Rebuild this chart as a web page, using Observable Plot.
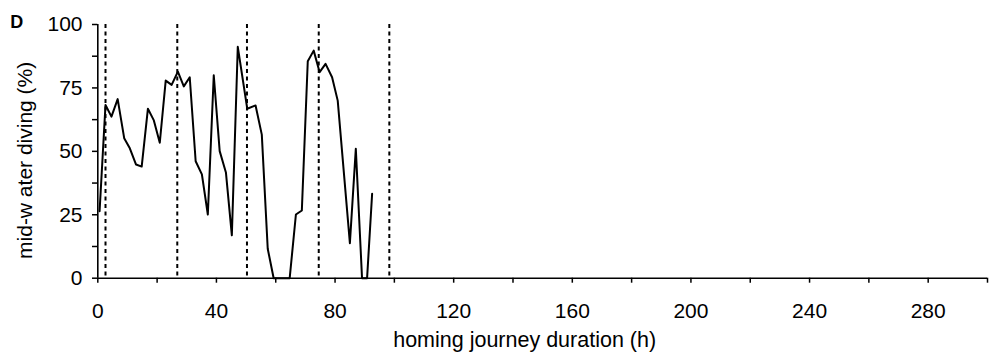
<!DOCTYPE html>
<html>
<head>
<meta charset="utf-8">
<script src="https://cdn.jsdelivr.net/npm/d3@7"></script>
<script src="https://cdn.jsdelivr.net/npm/@observablehq/plot@0.6"></script>
<style>
  html, body { margin: 0; padding: 0; background: #fff; }
  #chart svg { display: block; font-family: "Liberation Sans", Arial, sans-serif; }
</style>
</head>
<body>
<div id="chart"></div>
<script>
// ---- data ----
const panelLabel = "D";
const xLabel = "homing journey duration (h)";
const yLabel = "mid-w ater diving (%)";

const hours = [0.6, 2.6, 4.6, 6.7, 8.9, 10.8, 12.9, 14.8, 16.9, 18.9, 20.9, 22.9, 24.9, 27.0, 29.0, 31.0,
  33.0, 35.1, 37.1, 39.1, 41.1, 43.2, 45.2, 47.2, 50.4, 53.2, 55.3, 57.3, 59.3, 64.7, 66.8, 68.8,
  70.8, 72.8, 74.8, 76.8, 79.0, 80.9, 85.0, 87.0, 89.1, 90.8, 92.5];
const diving = [26.4, 68.3, 63.7, 70.6, 55.2, 51.2, 44.8, 44.0, 66.8, 62.2, 53.4, 77.9, 76.2, 81.4, 75.6, 79.2,
  46.1, 40.9, 25.1, 80.0, 50.1, 41.7, 16.9, 91.2, 66.8, 68.1, 56.6, 11.6, 0, 0, 25.1, 26.7,
  85.5, 89.7, 81.2, 84.5, 79.2, 70.0, 13.8, 51.0, 0, 0, 33.3];
const dayMarks = [2.6, 26.8, 50.3, 74.5, 98.3];

const xTicks = d3.range(0, 301, 20);
const xTickLabels = [0, 40, 80, 120, 160, 200, 240, 280];
const yTicks = d3.range(0, 100.01, 12.5);
const yTickLabels = [0, 25, 50, 75, 100];

const series = hours.map((h, i) => ({h, v: diving[i]}));

const chart = Plot.plot({
  width: 991,
  height: 356,
  marginLeft: 97.3,
  marginRight: 4,
  marginTop: 24,
  marginBottom: 78.3,
  style: {fontSize: "21px", fontFamily: "'Liberation Sans', Arial, sans-serif", color: "#000", background: "#fff", overflow: "visible"},
  x: {domain: [0, 300]},
  y: {domain: [0, 100]},
  marks: [
    Plot.axisX({ticks: xTicks, tickFormat: d => xTickLabels.includes(d) ? String(d) : "", tickSize: 5, tickPadding: 20, strokeWidth: 1.5, fontSize: 21, label: null}),
    Plot.axisY({ticks: yTicks, tickFormat: d => yTickLabels.includes(d) ? String(d) : "", tickSize: 5.3, tickPadding: 10, strokeWidth: 1.5, fontSize: 21, label: null}),
    Plot.ruleX(dayMarks, {stroke: "#000", strokeWidth: 2, strokeDasharray: "4,3.5"}),
    Plot.ruleY([0], {stroke: "#000", strokeWidth: 1.6}),
    Plot.ruleX([0], {stroke: "#000", strokeWidth: 1.6}),
    Plot.line(series, {x: "h", y: "v", stroke: "#000", strokeWidth: 2}),
    Plot.text([xLabel], {frameAnchor: "bottom", textAnchor: "middle", lineAnchor: "bottom", dy: 68.6, dx: -18, fontSize: 21.5}),
    Plot.text([yLabel], {frameAnchor: "left", textAnchor: "middle", lineAnchor: "middle", rotate: -90, dx: -73, dy: 9, fontSize: 21}),
    Plot.text([panelLabel], {frameAnchor: "top-left", textAnchor: "start", lineAnchor: "top", dx: -87.5, dy: -9, fontSize: 18, fontWeight: "bold"})
  ]
});
document.getElementById("chart").appendChild(chart);
</script>
</body>
</html>
